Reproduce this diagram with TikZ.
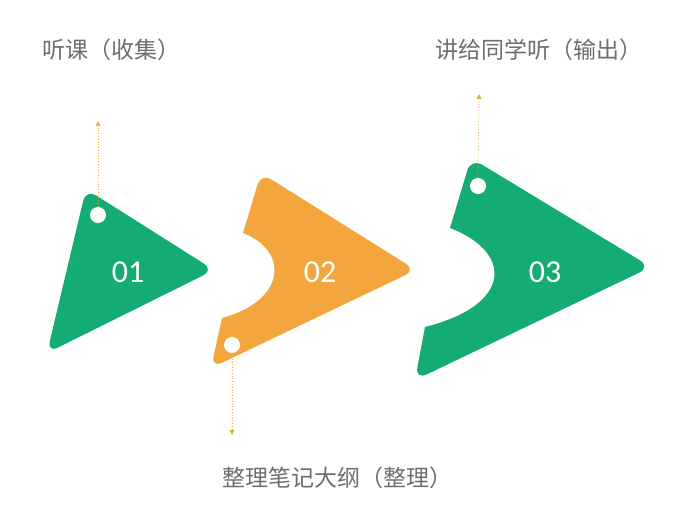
\documentclass[tikz,border=0pt]{standalone}
\usepackage{fontspec}
\newfontfamily\cjk{Noto Sans CJK SC}
\newfontfamily\numfont{Carlito}
\usetikzlibrary{arrows.meta}
\definecolor{tgreen}{HTML}{14AC72}
\definecolor{torange}{HTML}{F4A63E}
\definecolor{tgray}{HTML}{6E6E6E}
\definecolor{tline}{HTML}{DDB443}
\tikzset{
  label text/.style={font=\cjk\fontsize{23}{27}\selectfont, text=tgray, inner sep=0pt},
  num text/.style={font=\numfont\fontsize{32}{38}\selectfont, text=white, inner sep=0pt},
  hole/.style={circle, fill=white, minimum size=16pt, inner sep=0pt},
  lead/.style={tline, dotted, line width=0.8pt, -{Triangle[width=5pt,length=5pt]}},
}
\begin{document}
\begin{tikzpicture}[x=1pt,y=-1pt]
\useasboundingbox (0,0) rectangle (680,520);
\fill[white] (0,0) rectangle (680,520);
% shape 1
\fill[tgreen, rounded corners=12pt] (86,189) -- (214,270) -- (47,353) -- cycle;
% shape 2
\fill[torange] (222,318) .. controls (288,300) and (288,250) .. (243,233)
  [rounded corners=12pt] -- (261,173) -- (416,270) -- (211,368) -- (222,318);
% shape 3
\fill[tgreen] (425,327) .. controls (513,305) and (513,252) .. (450,228)
  [rounded corners=13pt] -- (471,158) -- (651,267) -- (415,380) -- (425,327);
% holes
\node[hole] (h1) at (98,215) {};
\node[hole] (h2) at (232,345) {};
\node[hole] (h3) at (478,186) {};
% lead lines
\coordinate (e1) at (98,121);
\coordinate (e2) at (232,435);
\coordinate (e3) at (479,94);
\draw[lead] (h1.north) -- (e1);
\draw[lead] (h2.south) -- (e2);
\draw[lead] (h3.north) -- (e3);
% numbers
\node[num text] (n1) at (128,272) {01};
\node[num text] (n2) at (320,272) {02};
\node[num text] (n3) at (545,272) {03};
% labels
\node[label text] (t1) at (111,50) {听课（收集）};
\node[label text] (t2) at (539,50) {讲给同学听（输出）};
\node[label text] (t3) at (337,478) {整理笔记大纲（整理）};
\end{tikzpicture}
\end{document}
